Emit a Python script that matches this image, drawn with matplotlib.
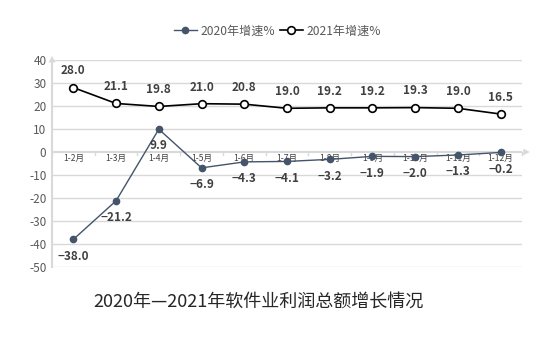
import matplotlib
matplotlib.use("Agg")
import matplotlib.pyplot as plt
import numpy as np

plt.rcParams['font.family'] = ['Noto Sans CJK SC', 'DejaVu Sans']

categories = ["1-2月", "1-3月", "1-4月", "1-5月", "1-6月", "1-7月", "1-8月", "1-9月", "1-10月", "1-11月", "1-12月"]
growth_2020 = [-38.0, -21.2, 9.9, -6.9, -4.3, -4.1, -3.2, -1.9, -2.0, -1.3, -0.2]
growth_2021 = [28.0, 21.1, 19.8, 21.0, 20.8, 19.0, 19.2, 19.2, 19.3, 19.0, 16.5]
yticks = [40, 30, 20, 10, 0, -10, -20, -30, -40, -50]
title = "2020年—2021年软件业利润总额增长情况"

fig = plt.figure(figsize=(5.55, 3.54), dpi=100)
ax = fig.add_axes([52/555, 1-267/354, (522-52)/555, (267-60)/354])
x = np.arange(len(categories))

ax.set_xlim(-0.5, len(categories)-0.5)
ax.set_ylim(-50, 40)
ax.set_yticks(yticks)
for t in yticks:
    if t != 0:
        ax.axhline(t, color='#d9d9d9', lw=1, zorder=0)
ax.tick_params(axis='y', length=0, labelsize=8.5, labelcolor='#595959', pad=4)
ax.set_yticklabels([str(t) for t in yticks])
for s in ['top', 'right', 'bottom']:
    ax.spines[s].set_visible(False)
ax.spines['left'].set_color('#d9d9d9')
ax.spines['left'].set_linewidth(1.5)
ax.set_xticks([])

# zero axis line with ticks and arrows
ax.axhline(0, color='#d9d9d9', lw=1.5, zorder=1)
for b in np.arange(-0.5, len(categories)-0.4, 1):
    ax.plot([b, b], [0, -1.3], color='#d9d9d9', lw=1, zorder=1, clip_on=False)
ax.annotate('', xy=(len(categories)-0.5+0.25, 0), xytext=(len(categories)-0.5, 0),
            xycoords='data', arrowprops=dict(arrowstyle='-|>', color='#d9d9d9', lw=0, mutation_scale=12), annotation_clip=False)
ax.annotate('', xy=(-0.5, 43), xytext=(-0.5, 40),
            arrowprops=dict(arrowstyle='-|>', color='#d9d9d9', lw=0, mutation_scale=12), annotation_clip=False)
for xi, c in zip(x, categories):
    ax.text(xi, -0.7, c, ha='center', va='top', fontsize=6.2, color='#404040', zorder=2)

l1, = ax.plot(x, growth_2020, color='#44546A', lw=1, marker='o', ms=4.5,
              markerfacecolor='#44546A', markeredgecolor='#44546A', zorder=3, label='2020年增速%')
l2, = ax.plot(x, growth_2021, color='black', lw=1.2, marker='o', ms=5.5,
              markerfacecolor='white', markeredgecolor='black', markeredgewidth=1.2, zorder=4, label='2021年增速%')

for xi, v in zip(x, growth_2021):
    ax.annotate(f"{v:.1f}", (xi, v), xytext=(0, 12), textcoords='offset points',
                ha='center', va='center', fontsize=8.5, fontweight='bold', color='#404040')
for xi, v in zip(x, growth_2020):
    s = f"{v:.1f}".replace('-', '−')
    ax.annotate(s, (xi, v), xytext=(0, -12), textcoords='offset points',
                ha='center', va='center', fontsize=8.5, fontweight='bold', color='#404040')

fig.legend(handles=[l1, l2], loc='center', bbox_to_anchor=(0.5, 1-31/354), ncol=2,
           frameon=False, fontsize=8.7, labelcolor='#595959', handlelength=1.9, columnspacing=0.4,
           handletextpad=0.3)

fig.text(258/555, 1-302/354, title, ha='center', va='center', fontsize=13, color='#262626')

fig.savefig('out.png', dpi=100)
